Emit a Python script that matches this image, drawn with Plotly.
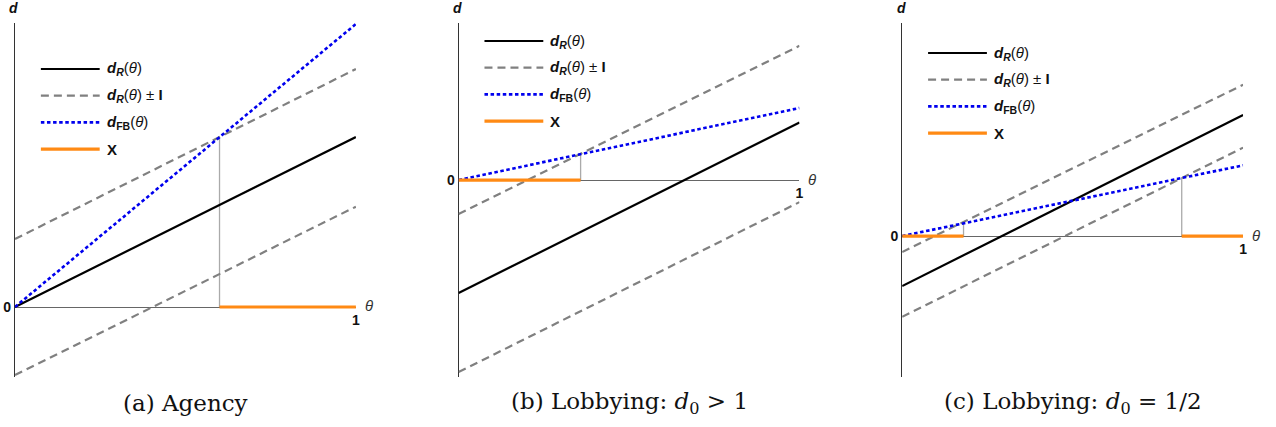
import numpy as np
import plotly.graph_objects as go

# ---------------- data ----------------
THETA = [0.0, 1.0]

# (a) Agency
A_DR = [0.0, 1.0]
A_UPPER = [0.40, 1.40]
A_LOWER = [-0.40, 0.59]
A_DFB = [0.0, 1.665]
A_X = [[0.60, 1.0]]

# (b) Lobbying: d0 > 1
B_DR = [-0.665, 0.338]
B_UPPER = [-0.20, 0.79]
B_LOWER = [-1.13, -0.13]
B_DFB = [0.0, 0.424]
B_X = [[0.0, 0.358]]

# (c) Lobbying: d0 = 1/2
C_DR = [-0.294, 0.712]
C_UPPER = [-0.094, 0.89]
C_LOWER = [-0.475, 0.52]
C_DFB = [0.0, 0.416]
C_X = [[0.0, 0.18], [0.82, 1.0]]

CAPTIONS = ["(a) Agency",
            "(b) Lobbying: <i>d</i><sub>0</sub> > 1",
            "(c) Lobbying: <i>d</i><sub>0</sub> = 1/2"]
LEGEND_LABELS = ["<b><i>d<sub>R</sub></i></b>(<i>θ</i>)",
                 "<b><i>d<sub>R</sub></i></b>(<i>θ</i>) ± <b>I</b>",
                 "<b><i>d</i><sub>FB</sub></b>(<i>θ</i>)",
                 "<b>X</b>"]

# ---------------- layout geometry ----------------
W, H = 1276, 427
X_DOM_PX = [(15, 357), (460, 802), (905, 1247)]
Y_DOM_PX = (23, 377)
Y_RANGES = [(-0.412, 1.671), (-1.159, 0.924), (-0.829, 1.253)]
LEG_PX = [(41, 69), (486, 41), (931, 53)]  # sample start x, first row y
LEG_DY = 26.7
LEG_LEN = 59

def px(x):
    return x / W

def py(y):
    return 1 - y / H

BLACK = "#000000"
GRAY = "#808080"
BLUE = "#0000ee"
ORANGE = "#ff8a14"
GUIDE = "#aaaaaa"
SANS = "Liberation Sans"
STYLES = [dict(color=BLACK, width=2.2, dash="solid"),
          dict(color=GRAY, width=2.2, dash="8px,5px"),
          dict(color=BLUE, width=2.6, dash="3.5px,2.6px"),
          dict(color=ORANGE, width=3.2, dash="solid")]

panels = [
    (A_DR, A_UPPER, A_LOWER, A_DFB, A_X),
    (B_DR, B_UPPER, B_LOWER, B_DFB, B_X),
    (C_DR, C_UPPER, C_LOWER, C_DFB, C_X),
]

fig = go.Figure()
shapes = []
annotations = []
ydom = [py(Y_DOM_PX[1]), py(Y_DOM_PX[0])]

for i, (dr, up, lo, dfb, xs) in enumerate(panels):
    n = "" if i == 0 else str(i + 1)
    xa, ya = "x" + n, "y" + n
    # guides
    for seg in xs:
        for c in seg:
            if 0 < c < 1:
                h = float(np.interp(c, THETA, dfb))
                fig.add_trace(go.Scatter(x=[c, c], y=[0, h], mode="lines",
                                         line=dict(color=GUIDE, width=1.3),
                                         xaxis=xa, yaxis=ya, hoverinfo="skip", showlegend=False))
    for ys in (up, lo):
        fig.add_trace(go.Scatter(x=THETA, y=ys, mode="lines", line=STYLES[1],
                                 xaxis=xa, yaxis=ya, showlegend=False))
    fig.add_trace(go.Scatter(x=THETA, y=dr, mode="lines", line=STYLES[0],
                             xaxis=xa, yaxis=ya, showlegend=False))
    fig.add_trace(go.Scatter(x=THETA, y=dfb, mode="lines", line=STYLES[2],
                             xaxis=xa, yaxis=ya, showlegend=False))
    for seg in xs:
        fig.add_trace(go.Scatter(x=seg, y=[0, 0], mode="lines", line=STYLES[3],
                                 xaxis=xa, yaxis=ya, showlegend=False, cliponaxis=False))

    x0, x1 = X_DOM_PX[i]
    ymin, ymax = Y_RANGES[i]
    zero_pos = ydom[0] + (0 - ymin) / (ymax - ymin) * (ydom[1] - ydom[0])
    zero_px = H * (1 - zero_pos)

    fig.update_layout(**{
        "xaxis" + n: dict(domain=[px(x0), px(x1)], range=[0, 1], anchor="free",
                          position=zero_pos, showline=True, linecolor="#666666", linewidth=1,
                          showgrid=False, zeroline=False, tickvals=[1], ticktext=["<b>1</b>"],
                          ticks="inside", ticklen=4, tickcolor="#666666", tickwidth=1,
                          tickfont=dict(family=SANS, size=14, color="#111"),
                          layer="below traces", fixedrange=True),
        "yaxis" + n: dict(domain=ydom, range=[ymin, ymax], anchor="x" + n,
                          showline=True, linecolor="#333333", linewidth=1,
                          showgrid=False, zeroline=False, tickvals=[0], ticktext=["<b>0</b>"],
                          ticks="", tickfont=dict(family=SANS, size=14, color="#111"),
                          layer="below traces", fixedrange=True),
    })

    # axis titles
    annotations.append(dict(x=px(x0 - 1), y=py(8), xref="paper", yref="paper",
                            text="<b><i>d</i></b>", showarrow=False,
                            font=dict(family=SANS, size=14, color="#111"),
                            xanchor="center", yanchor="middle"))
    annotations.append(dict(x=px(x1 + 7), y=py(zero_px - 1), xref="paper", yref="paper",
                            text="<i>θ</i>", showarrow=False,
                            font=dict(family=SANS, size=15, color="#333"),
                            xanchor="left", yanchor="middle"))
    # caption
    annotations.append(dict(x=px((x0 + x1) / 2), y=py(403), xref="paper", yref="paper",
                            text=CAPTIONS[i], showarrow=False,
                            font=dict(family="DejaVu Serif", size=23, color="#111"),
                            xanchor="center", yanchor="middle"))
    # legend
    lx, ly = LEG_PX[i]
    for k, lab in enumerate(LEGEND_LABELS):
        yy = ly + k * LEG_DY
        st = STYLES[k]
        shapes.append(dict(type="line", xref="paper", yref="paper",
                           x0=px(lx), x1=px(lx + LEG_LEN), y0=py(yy), y1=py(yy),
                           line=dict(color=st["color"], width=st["width"], dash=st["dash"])))
        annotations.append(dict(x=px(lx + LEG_LEN + 5), y=py(yy), xref="paper", yref="paper",
                                text=lab, showarrow=False,
                                font=dict(family=SANS, size=15, color="#111"),
                                xanchor="left", yanchor="middle"))

fig.update_layout(width=W, height=H, margin=dict(l=0, r=0, t=0, b=0),
                  paper_bgcolor="white", plot_bgcolor="white",
                  shapes=shapes, annotations=annotations, showlegend=False)

fig.write_html("out.html", config={"displayModeBar": False},
               post_script="document.body.style.margin='0';")
